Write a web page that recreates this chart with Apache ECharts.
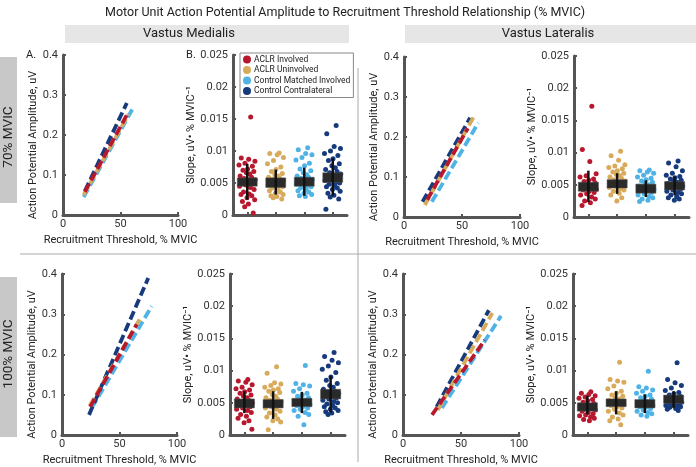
<!DOCTYPE html>
<html>
<head>
<meta charset="utf-8">
<script src="https://cdn.jsdelivr.net/npm/echarts@6/dist/echarts.min.js"></script>
<style>
  html, body { margin: 0; padding: 0; background: #fff; }
  #main { width: 696px; height: 467px; }
</style>
</head>
<body>
<div id="main"></div>
<script>
var FONT = "'Liberation Sans Narrow', Roboto, sans-serif";

var groups = ['ACLR Involved', 'ACLR Uninvolved', 'Control Matched Involved', 'Control Contralateral'];
var colors = ['#b8182e', '#d8ab5c', '#4fb3e6', '#173a7c'];

// regression lines, [start, end] per group (red, tan, light blue, dark blue)
var vm70Lines = [[[19, 0.058], [55.5, 0.25]], [[18, 0.05], [57, 0.252]], [[18, 0.045], [61, 0.268]], [[19, 0.06], [55.5, 0.28]]];
var vl70Lines = [[[20, 0.043], [55, 0.222]], [[18, 0.03], [60, 0.25]], [[24, 0.038], [64, 0.235]], [[16, 0.038], [57, 0.248]]];
var vm100Lines = [[[24.5, 0.07], [65, 0.275]], [[24, 0.072], [68, 0.29]], [[26, 0.068], [78, 0.32]], [[23.5, 0.05], [75, 0.39]]];
var vl100Lines = [[[25, 0.05], [70.5, 0.236]], [[30, 0.062], [77, 0.303]], [[33.5, 0.067], [84.5, 0.296]], [[29, 0.07], [74, 0.31]]];

// slopes of individual subjects
var vm70Pts = [
  [0.0153, 0.0089, 0.0087, 0.0084, 0.0081, 0.0078, 0.0076, 0.0072, 0.0070, 0.0068, 0.0066, 0.0064, 0.0061, 0.0059, 0.0057, 0.0055, 0.0053, 0.0051, 0.0049, 0.0047, 0.0045, 0.0043, 0.0040, 0.0036, 0.0033, 0.0032, 0.0030, 0.0027, 0.0024, 0.0021, 0.0017, 0.0013, 0.0003],
  [0.0097, 0.0096, 0.0094, 0.0090, 0.0085, 0.0080, 0.0075, 0.0071, 0.0068, 0.0065, 0.0063, 0.0061, 0.0059, 0.0057, 0.0056, 0.0054, 0.0053, 0.0051, 0.0050, 0.0048, 0.0047, 0.0045, 0.0044, 0.0042, 0.0040, 0.0038, 0.0036, 0.0034, 0.0032, 0.0030, 0.0029, 0.0027, 0.0025],
  [0.0105, 0.0102, 0.0096, 0.0094, 0.0090, 0.0086, 0.0081, 0.0077, 0.0072, 0.0069, 0.0066, 0.0063, 0.0061, 0.0059, 0.0057, 0.0055, 0.0054, 0.0052, 0.0051, 0.0049, 0.0048, 0.0046, 0.0044, 0.0042, 0.0040, 0.0038, 0.0036, 0.0034, 0.0032, 0.0030, 0.0029],
  [0.0140, 0.0127, 0.0107, 0.0104, 0.0100, 0.0096, 0.0093, 0.0088, 0.0085, 0.0080, 0.0077, 0.0074, 0.0071, 0.0068, 0.0066, 0.0064, 0.0062, 0.0060, 0.0058, 0.0056, 0.0054, 0.0052, 0.0050, 0.0048, 0.0046, 0.0044, 0.0042, 0.0040, 0.0037, 0.0034, 0.0031, 0.0028, 0.0025, 0.0009]
];
var vl70Pts = [
  [0.0172, 0.0105, 0.0086, 0.0067, 0.0064, 0.0062, 0.0059, 0.0057, 0.0055, 0.0053, 0.0051, 0.0049, 0.0048, 0.0046, 0.0045, 0.0043, 0.0042, 0.0040, 0.0038, 0.0036, 0.0034, 0.0031, 0.0028, 0.0025, 0.0022, 0.0018],
  [0.0102, 0.0095, 0.0088, 0.0081, 0.0079, 0.0077, 0.0075, 0.0072, 0.0070, 0.0068, 0.0066, 0.0064, 0.0062, 0.0060, 0.0058, 0.0056, 0.0054, 0.0052, 0.0050, 0.0048, 0.0046, 0.0044, 0.0042, 0.0040, 0.0037, 0.0034, 0.0030, 0.0025],
  [0.0073, 0.0072, 0.0070, 0.0068, 0.0065, 0.0062, 0.0060, 0.0058, 0.0056, 0.0054, 0.0052, 0.0050, 0.0048, 0.0046, 0.0045, 0.0043, 0.0042, 0.0040, 0.0038, 0.0036, 0.0034, 0.0032, 0.0030, 0.0028, 0.0026, 0.0024],
  [0.0087, 0.0084, 0.0078, 0.0072, 0.0068, 0.0065, 0.0063, 0.0061, 0.0059, 0.0057, 0.0056, 0.0054, 0.0052, 0.0051, 0.0049, 0.0048, 0.0046, 0.0045, 0.0043, 0.0042, 0.0040, 0.0038, 0.0036, 0.0034, 0.0032, 0.0030, 0.0028, 0.0026]
];
var vm100Pts = [
  [0.0086, 0.0084, 0.0082, 0.0078, 0.0074, 0.0072, 0.0070, 0.0067, 0.0065, 0.0062, 0.0060, 0.0058, 0.0056, 0.0054, 0.0052, 0.0050, 0.0048, 0.0046, 0.0044, 0.0042, 0.0040, 0.0038, 0.0035, 0.0032, 0.0029, 0.0026, 0.0022, 0.0019, 0.0009],
  [0.0106, 0.0096, 0.0081, 0.0079, 0.0077, 0.0074, 0.0072, 0.0070, 0.0068, 0.0066, 0.0063, 0.0060, 0.0058, 0.0056, 0.0054, 0.0052, 0.0050, 0.0048, 0.0046, 0.0044, 0.0042, 0.0040, 0.0037, 0.0034, 0.0031, 0.0028, 0.0025, 0.0022, 0.0020, 0.0008],
  [0.0108, 0.0080, 0.0078, 0.0076, 0.0072, 0.0068, 0.0065, 0.0062, 0.0060, 0.0058, 0.0056, 0.0054, 0.0052, 0.0050, 0.0049, 0.0047, 0.0046, 0.0044, 0.0042, 0.0040, 0.0038, 0.0035, 0.0032, 0.0029, 0.0016],
  [0.0128, 0.0122, 0.0116, 0.0112, 0.0107, 0.0102, 0.0097, 0.0090, 0.0085, 0.0080, 0.0077, 0.0074, 0.0071, 0.0068, 0.0066, 0.0064, 0.0062, 0.0060, 0.0058, 0.0056, 0.0054, 0.0052, 0.0050, 0.0048, 0.0046, 0.0044, 0.0042, 0.0040, 0.0038, 0.0036, 0.0034, 0.0032]
];
var vl100Pts = [
  [0.0067, 0.0065, 0.0063, 0.0061, 0.0059, 0.0057, 0.0055, 0.0053, 0.0051, 0.0049, 0.0047, 0.0046, 0.0044, 0.0042, 0.0040, 0.0039, 0.0037, 0.0035, 0.0033, 0.0031, 0.0030, 0.0028, 0.0026, 0.0024, 0.0022],
  [0.0113, 0.0086, 0.0084, 0.0082, 0.0076, 0.0072, 0.0068, 0.0065, 0.0062, 0.0060, 0.0058, 0.0056, 0.0054, 0.0052, 0.0050, 0.0048, 0.0046, 0.0044, 0.0042, 0.0040, 0.0037, 0.0034, 0.0031, 0.0028, 0.0025, 0.0022, 0.0016],
  [0.0099, 0.0075, 0.0073, 0.0070, 0.0068, 0.0065, 0.0062, 0.0060, 0.0058, 0.0056, 0.0054, 0.0052, 0.0050, 0.0049, 0.0047, 0.0046, 0.0044, 0.0043, 0.0041, 0.0039, 0.0037, 0.0035, 0.0033, 0.0031, 0.0029],
  [0.0112, 0.0086, 0.0081, 0.0077, 0.0073, 0.0069, 0.0066, 0.0064, 0.0062, 0.0060, 0.0058, 0.0057, 0.0055, 0.0054, 0.0052, 0.0051, 0.0050, 0.0049, 0.0048, 0.0047, 0.0046, 0.0045, 0.0044, 0.0043, 0.0041, 0.0040, 0.0038]
];

// summary boxes: [box low, box high, bar low, bar high]
var vm70Box = [[0.0045, 0.0058, 0.0024, 0.0080], [0.0043, 0.0058, 0.0032, 0.0071], [0.0045, 0.0059, 0.0030, 0.0074], [0.0051, 0.0066, 0.0030, 0.0089]];
var vl70Box = [[0.0040, 0.0054, 0.0023, 0.0072], [0.0045, 0.0058, 0.0036, 0.0068], [0.0037, 0.0051, 0.0031, 0.0057], [0.0042, 0.0055, 0.0034, 0.0063]];
var vm100Box = [[0.0042, 0.0056, 0.0034, 0.0068], [0.0042, 0.0055, 0.0025, 0.0068], [0.0044, 0.0057, 0.0034, 0.0067], [0.0056, 0.0071, 0.0035, 0.0092]];
var vl100Box = [[0.0037, 0.0050, 0.0032, 0.0061], [0.0044, 0.0056, 0.0032, 0.0068], [0.0042, 0.0055, 0.0034, 0.0063], [0.0049, 0.0062, 0.0042, 0.0068]];

// horizontal spread of the dots around each group
var jitter = [0.12, -0.21, 0.05, 0.27, -0.08, -0.29, 0.18, 0.01, -0.15, 0.23, -0.03, 0.09, -0.25, 0.15, -0.11, 0.28,
  -0.18, 0.03, 0.2, -0.06, -0.27, 0.11, 0.24, -0.13, 0.07, -0.22, 0.16, -0.01, 0.26, -0.17, 0.04, -0.09, 0.21, -0.24, 0.13, -0.04];

var grids = [
  {left: 63, top: 55, width: 115, height: 160},
  {left: 233, top: 55, width: 114, height: 160},
  {left: 404, top: 57, width: 116, height: 160},
  {left: 574, top: 56, width: 115, height: 161},
  {left: 62, top: 274, width: 115, height: 161},
  {left: 230, top: 274, width: 115, height: 161},
  {left: 403, top: 274, width: 116, height: 161},
  {left: 573, top: 274, width: 115, height: 161}
];

var axisLine = {show: true, onZero: false, lineStyle: {color: '#555', width: 3}};
var axisTick = {show: true, inside: true, length: 3, lineStyle: {color: '#555', width: 2}};
var labelStyle = {color: '#333', fontSize: 11, fontFamily: FONT};
var nameStyle = {color: '#222', fontSize: 11, fontFamily: FONT};

var xAxes = [], yAxes = [], series = [];

function addLinePanel(gi, lines) {
  xAxes.push({gridIndex: gi, type: 'value', min: 0, max: 100, interval: 50,
    name: 'Recruitment Threshold, % MVIC', nameLocation: 'middle', nameGap: 20, nameTextStyle: nameStyle,
    axisLine: axisLine, axisTick: axisTick, axisLabel: Object.assign({margin: 4}, labelStyle), splitLine: {show: false}});
  yAxes.push({gridIndex: gi, type: 'value', min: 0, max: 0.4, interval: 0.1,
    name: 'Action Potential Amplitude, uV', nameLocation: 'middle', nameGap: 24,
    nameTextStyle: Object.assign({padding: [0, 0, 0, -20]}, nameStyle),
    axisLine: axisLine, axisTick: axisTick, axisLabel: Object.assign({margin: 5}, labelStyle), splitLine: {show: false}});
  [2, 3, 1, 0].forEach(function (g) {
    series.push({name: groups[g], type: 'line', xAxisIndex: gi, yAxisIndex: gi, data: lines[g],
      showSymbol: false, silent: true, color: colors[g],
      lineStyle: {color: colors[g], width: 3.8, type: [9, 4]}});
  });
}

function renderBox(params, api) {
  var x = api.value(0);
  var a = api.coord([x - 0.35, api.value(2)]);
  var b = api.coord([x + 0.35, api.value(1)]);
  var w1 = api.coord([x, api.value(4)]);
  var w2 = api.coord([x, api.value(3)]);
  return {type: 'group', children: [
    {type: 'rect', shape: {x: a[0], y: a[1], width: b[0] - a[0], height: b[1] - a[1]},
      style: {fill: '#2a2a2a', stroke: '#555', lineWidth: 0.5}},
    {type: 'line', shape: {x1: w1[0], y1: w1[1], x2: w2[0], y2: w2[1]},
      style: {stroke: '#111', lineWidth: 2.5}}
  ]};
}

function addScatterPanel(gi, pts, boxes) {
  xAxes.push({gridIndex: gi, type: 'value', min: 0.5, max: 4.5,
    axisLine: axisLine, axisTick: Object.assign({customValues: [1, 2, 3, 4]}, axisTick),
    axisLabel: {show: false}, splitLine: {show: false}});
  yAxes.push({gridIndex: gi, type: 'value', min: 0, max: 0.025, interval: 0.005,
    name: 'Slope, uV\u2022 % MVIC\u207B\u00B9', nameLocation: 'middle', nameGap: 35, nameTextStyle: nameStyle,
    axisLine: axisLine, axisTick: axisTick, axisLabel: Object.assign({margin: 5}, labelStyle), splitLine: {show: false}});
  pts.forEach(function (vals, g) {
    series.push({name: groups[g], type: 'scatter', xAxisIndex: gi, yAxisIndex: gi, symbolSize: 5,
      silent: true, itemStyle: {color: colors[g], opacity: 1},
      data: vals.map(function (v, k) { return [g + 1 + jitter[k % jitter.length], v]; })});
  });
  series.push({type: 'custom', xAxisIndex: gi, yAxisIndex: gi, z: 5, silent: true,
    renderItem: renderBox, encode: {x: 0, y: [1, 2, 3, 4]},
    data: boxes.map(function (b, g) { return [g + 1, b[0], b[1], b[2], b[3]]; })});
}

addLinePanel(0, vm70Lines);
addScatterPanel(1, vm70Pts, vm70Box);
addLinePanel(2, vl70Lines);
addScatterPanel(3, vl70Pts, vl70Box);
addLinePanel(4, vm100Lines);
addScatterPanel(5, vm100Pts, vm100Box);
addLinePanel(6, vl100Lines);
addScatterPanel(7, vl100Pts, vl100Box);

var txt = function (s, x, y, size, extra) {
  return Object.assign({type: 'text', x: x, y: y, silent: true,
    style: {text: s, fill: '#222', font: size + 'px ' + FONT, textAlign: 'center', textVerticalAlign: 'middle'}}, extra || {});
};

var chart = echarts.init(document.getElementById('main'));
chart.setOption({
  animation: false,
  textStyle: {fontFamily: FONT},
  grid: grids,
  xAxis: xAxes,
  yAxis: yAxes,
  legend: {
    data: groups, left: 240, top: 53, orient: 'vertical', icon: 'circle',
    itemWidth: 8, itemHeight: 8, itemGap: 1.5, padding: [2, 3, 2, 3],
    backgroundColor: '#fff', borderColor: '#888', borderWidth: 1,
    textStyle: {fontSize: 8.5, color: '#222', fontFamily: FONT, padding: [0, 0, 0, -2]},
    selectedMode: false
  },
  graphic: [
    txt('Motor Unit Action Potential Amplitude to Recruitment Threshold Relationship (% MVIC)', 345, 13, 12.5),
    {type: 'rect', shape: {x: 65, y: 25, width: 284, height: 18}, style: {fill: '#e6e6e6'}, silent: true},
    {type: 'rect', shape: {x: 405, y: 25, width: 291, height: 18}, style: {fill: '#e6e6e6'}, silent: true},
    txt('Vastus Medialis', 189, 34, 13),
    txt('Vastus Lateralis', 548, 34, 13),
    {type: 'rect', shape: {x: 0, y: 57, width: 17, height: 146}, style: {fill: '#c8c8c8'}, silent: true},
    {type: 'rect', shape: {x: 0, y: 277, width: 17, height: 160}, style: {fill: '#c8c8c8'}, silent: true},
    txt('70% MVIC', 9, 137, 13.5, {rotation: Math.PI / 2}),
    txt('100% MVIC', 9, 354, 13.5, {rotation: Math.PI / 2}),
    {type: 'line', shape: {x1: 20, y1: 254, x2: 696, y2: 254}, style: {stroke: '#aaa', lineWidth: 1}, silent: true},
    {type: 'line', shape: {x1: 358, y1: 68, x2: 358, y2: 462}, style: {stroke: '#aaa', lineWidth: 1}, silent: true},
    txt('A.', 31, 55, 11),
    txt('B.', 191, 55, 11)
  ],
  series: series
});
</script>
</body>
</html>
